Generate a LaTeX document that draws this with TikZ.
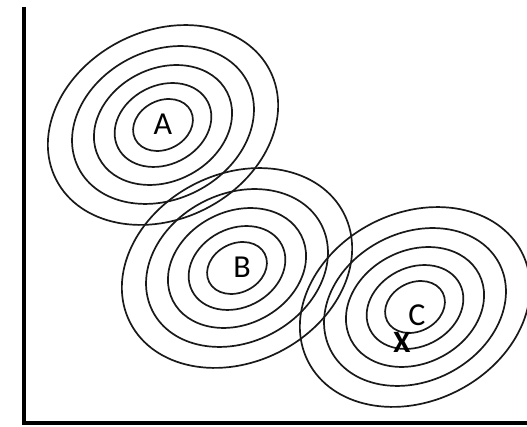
\documentclass[tikz,border=0pt]{standalone}
\usepackage{fontspec}
\setmainfont{Carlito}
\begin{document}
\begin{tikzpicture}[x=1pt,y=1pt,
  ring/.style={draw=black!90, line width=1.7pt},
  axisline/.style={draw=black, line width=3.5pt, line join=miter},
  lbl/.style={font=\fontsize{32}{32}\selectfont, inner sep=0pt, text=black},
  xmark/.style={font=\bfseries\fontsize{31}{31}\selectfont, inner sep=0pt}]
\useasboundingbox (0,0) rectangle (527,427);
% axes
\coordinate (ytop) at (24,420);
\coordinate (orig) at (24,4);
\coordinate (xend) at (527,4);
\draw[axisline] (ytop) -- (orig) -- (xend);
% cluster centres
\coordinate (cA) at (163,302);
\coordinate (cB) at (237,159);
\coordinate (cC) at (415,120);
\foreach \c in {cA,cB,cC}{
  \foreach \s in {1,0.79,0.6,0.42,0.26}{
    \draw[ring, rotate around={27:(\c)}] (\c) ellipse [x radius=120*\s, y radius=94*\s];
  }
}
\node[lbl] (labA) at (163,303) {A};
\node[lbl] (labB) at (242,160) {B};
\node[lbl] (labC) at (417,112) {C};
\node[xmark] (xpt) at (402,85) {X};
\end{tikzpicture}
\end{document}
